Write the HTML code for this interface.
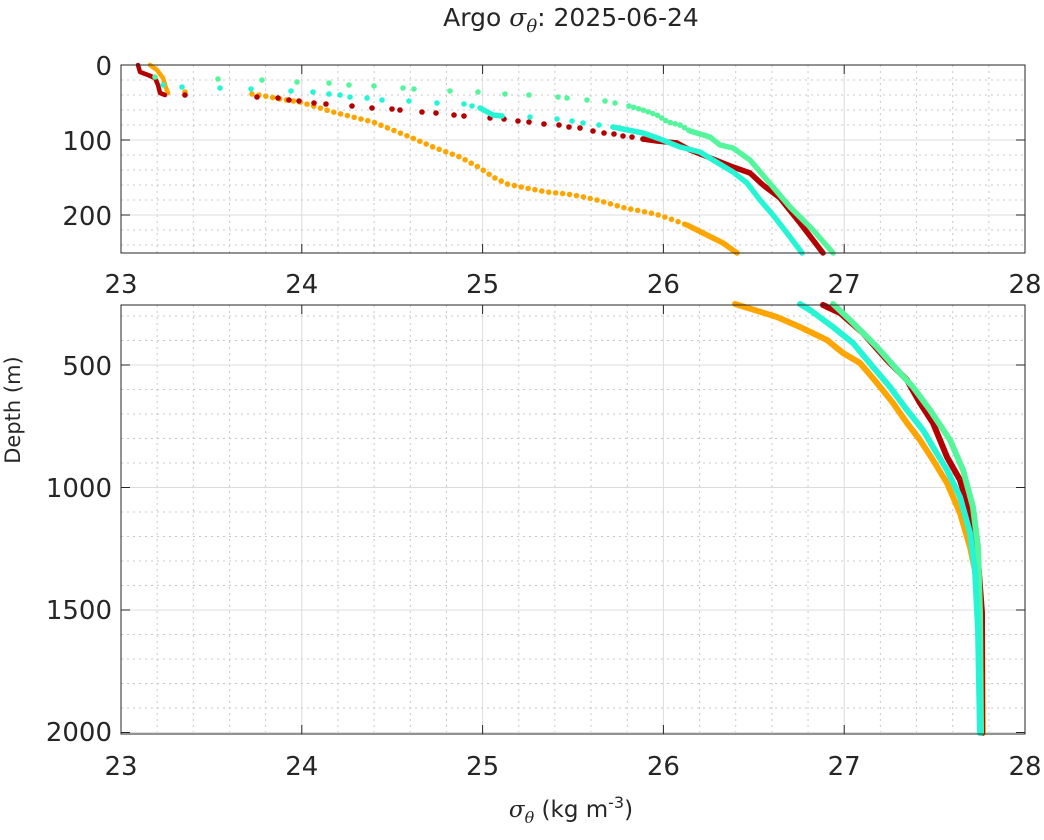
<!DOCTYPE html>
<html><head><meta charset="utf-8"><style>
body{margin:0;background:#fff}
svg text{font-family:"DejaVu Sans","Liberation Sans",sans-serif;fill:#262626}
.m{font-family:"DejaVu Serif","Liberation Serif",serif;font-style:italic}
</style></head><body>
<svg id="s" width="1044" height="835" xmlns="http://www.w3.org/2000/svg">
<rect width="1044" height="835" fill="#fff"/>
<g id="grid"></g>
<g id="data"></g>
<rect x="121" y="65" width="904" height="188" fill="none" stroke="#262626" stroke-width="1"/>
<rect x="121" y="305" width="904" height="429" fill="none" stroke="#262626" stroke-width="1"/>
<text x="571" y="26" font-size="25" text-anchor="middle">Argo <tspan class="m">σ</tspan><tspan class="m" font-size="18" dy="6">θ</tspan><tspan dy="-6">: 2025-06-24</tspan></text>
<g font-size="26" text-anchor="end">
<text x="112" y="75">0</text><text x="112" y="150">100</text><text x="112" y="225">200</text>
<text x="112" y="375">500</text><text x="112" y="497">1000</text><text x="112" y="619">1500</text><text x="112" y="741">2000</text>
</g>
<g font-size="26" text-anchor="middle" id="xt"></g>
<text transform="translate(20,410) rotate(-90)" font-size="21" text-anchor="middle">Depth (m)</text>
<text x="571" y="817" font-size="23" text-anchor="middle"><tspan class="m">σ</tspan><tspan class="m" font-size="16" dy="6">θ</tspan><tspan dy="-6"> (kg m</tspan><tspan font-size="16" dy="-9">-3</tspan><tspan dy="9">)</tspan></text>
</svg>
<script>
var NS="http://www.w3.org/2000/svg";
function el(p,t,a){var e=document.createElementNS(NS,t);for(var k in a)e.setAttribute(k,a[k]);p.appendChild(e);return e;}
var G=document.getElementById('grid'),D=document.getElementById('data'),XT=document.getElementById('xt');
function X(s){return 121+(s-23)*180.8;}
for(var i=1;i<25;i++){var x=X(23+i*0.2);var maj=i%5==0;
 el(G,'line',{x1:x,x2:x,y1:65,y2:253,stroke:maj?'#dcdcdc':'#c8c8c8','stroke-dasharray':maj?'':'2,4','stroke-width':1});
 el(G,'line',{x1:x,x2:x,y1:305,y2:734,stroke:maj?'#dcdcdc':'#c8c8c8','stroke-dasharray':maj?'':'2,4','stroke-width':1});}
for(var d=20;d<250;d+=20){var y=65+d*0.75;var maj=d%100==0;
 el(G,'line',{x1:121,x2:1025,y1:y,y2:y,stroke:maj?'#dcdcdc':'#c8c8c8','stroke-dasharray':maj?'':'2,4'});
 if(maj){el(G,'line',{x1:121,x2:130,y1:y,y2:y,stroke:'#262626'});el(G,'line',{x1:1016,x2:1025,y1:y,y2:y,stroke:'#262626'});}}
function Y(d){return 365+(d-500)*0.245;}
for(var d=300;d<=2000;d+=100){var y=Y(d);var maj=d%500==0;
 el(G,'line',{x1:121,x2:1025,y1:y,y2:y,stroke:maj?'#dcdcdc':'#c8c8c8','stroke-dasharray':maj?'':'2,4'});
 if(maj){el(G,'line',{x1:121,x2:130,y1:y,y2:y,stroke:'#262626'});el(G,'line',{x1:1016,x2:1025,y1:y,y2:y,stroke:'#262626'});}}
for(var s=23;s<=28;s++){var x=X(s);
 [[253,244],[65,74],[734,725],[305,314]].forEach(function(p){el(G,'line',{x1:x,x2:x,y1:p[0],y2:p[1],stroke:'#262626'});});
 el(XT,'text',{x:x,y:293}).textContent=s;el(XT,'text',{x:x,y:775}).textContent=s;}
function line(pts,c,w){el(D,'polyline',{points:pts.map(function(p){return p.join(',')}).join(' '),fill:'none',stroke:c,'stroke-width':w,'stroke-linejoin':'round','stroke-linecap':'round'});}
function dots(pts,c,r){pts.forEach(function(p){el(D,'circle',{cx:p[0],cy:p[1],r:r||2.8,fill:c});});}
function along(pts,sp){var out=[pts[0]],acc=0;for(var i=1;i<pts.length;i++){var a=pts[i-1],b=pts[i],L=Math.hypot(b[0]-a[0],b[1]-a[1]);var t=sp-acc;while(t<=L){out.push([a[0]+(b[0]-a[0])*t/L,a[1]+(b[1]-a[1])*t/L]);t+=sp;}acc=L-(t-sp);}return out;}
var R='#b40000',O='#ffa500',C='#25f5d5',Gr='#55f59c';
line([[150,65],[157,70],[163,78],[166,88],[168,93]],O,4.5);dots([[185,92]],O);
dots(along([[252,94],[265,96],[280,99],[300,102],[333,112],[373,122],[410,137],[433,147],[460,157],[480,168],[493,177],[507,184],[526,188],[547,192],[567,194],[584,197],[597,200],[611,204],[625,208],[641,211],[655,214],[668,218],[687,225]],7),O);
line([[687,225],[707,235],[723,243],[737,253]],O,5.5);
line([[138,65],[140,72],[148,75],[155,78],[158,85],[160,93],[165,95]],R,4.5);
dots([[185,95],[257,97],[278,98],[289,100],[299,101],[314,103],[326,104],[352,106],[372,108],[392,109],[400,110],[422,112],[436,113],[454,115],[464,116],[490,118],[504,119],[518,121],[529,122],[544,124],[559,125],[569,127],[580,128],[593,131],[604,133],[614,134],[623,136],[632,137],[643,139]],R);
line([[643,139],[657,141],[677,143],[690,150],[713,159],[733,167],[750,173],[763,185],[780,198],[800,223],[823,253]],R,5.5);
dots([[155,77],[218,79],[262,80],[297,82],[329,83],[349,85],[374,86],[403,88],[414,89],[450,91],[478,92],[505,94],[529,95],[558,97],[567,98],[587,100],[605,101],[615,103],[629,106]],Gr);
dots(along([[629,106],[643,110],[657,115],[668,122],[680,125],[690,131]],5),Gr);
line([[690,131],[710,137],[720,145],[733,148],[750,160],[767,180],[790,207],[813,230],[833,253]],Gr,5.5);
dots([[163,85],[182,87],[220,88],[251,89],[291,91],[313,92],[329,94],[340,95],[350,97],[367,98],[382,100],[409,101],[437,103],[464,104],[472,106]],C);
dots([[530,117],[557,119],[572,121],[583,123],[599,125],[613,127]],C);
line([[480,108],[493,115],[502,116]],C,5.5);
line([[613,127],[628,130],[643,133],[660,139],[680,147],[700,152],[713,160],[733,172],[747,183],[760,200],[773,215],[790,237],[802,253]],C,5.5);
line([[735,304],[777,317],[800,327],[827,340],[843,353],[860,363],[877,383],[893,403],[907,423],[920,440],[933,460],[947,483],[960,513],[970,547],[977,580],[982,630],[983,733]],O,6);
line([[823,305],[840,313],[863,333],[887,360],[907,380],[920,403],[933,423],[947,457],[960,480],[970,513],[977,547],[982,613],[982,733]],R,6);
line([[833,304],[850,320],[877,347],[900,373],[913,387],[930,410],[950,440],[963,470],[973,507],[978,547],[980,613],[981,733]],Gr,6);
line([[800,304],[810,310],[833,327],[853,343],[873,367],[890,387],[907,410],[923,430],[933,447],[947,470],[960,497],[970,533],[975,570],[978,630],[980,733]],C,6);
</script>
</body></html>
